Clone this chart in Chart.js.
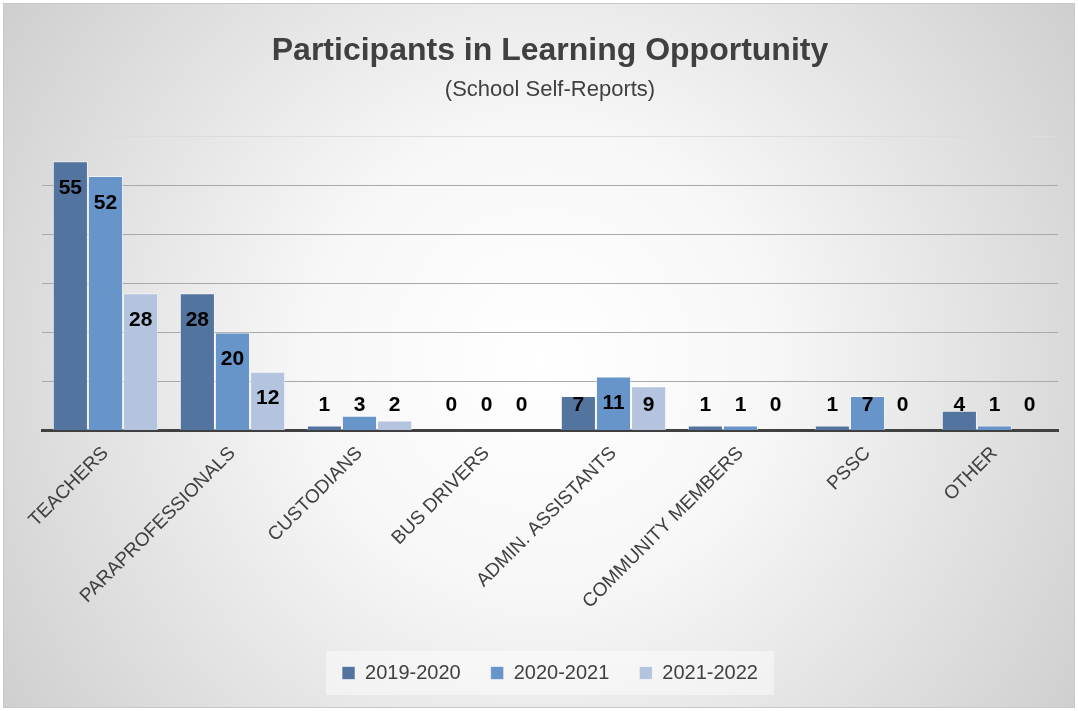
<!DOCTYPE html>
<html>
<head>
<meta charset="utf-8">
<script src="https://cdn.jsdelivr.net/npm/chart.js@4/dist/chart.umd.min.js"></script>
<style>
  html, body { margin: 0; padding: 0; background: #fff; }
  #wrap { width: 1078px; height: 711px; }
</style>
</head>
<body>
<div id="wrap"><canvas id="chart"></canvas></div>
<script>
// Chart data
const categories = ['TEACHERS', 'PARAPROFESSIONALS', 'CUSTODIANS', 'BUS DRIVERS',
    'ADMIN. ASSISTANTS', 'COMMUNITY MEMBERS', 'PSSC', 'OTHER'];
const seriesNames = ['2019-2020', '2020-2021', '2021-2022'];
const values2019 = [55, 28, 1, 0, 7, 1, 1, 4];
const values2020 = [52, 20, 3, 0, 11, 1, 7, 1];
const values2021 = [28, 12, 2, 0, 9, 0, 0, 0];
const yTicks = [0, 10, 20, 30, 40, 50, 60];

const colors = ['#52749f', '#6794c9', '#b4c4df'];
const textColor = '#404040';
const font = "'Liberation Sans', Arial, sans-serif";

// Gray radial background + legend box
const backgroundPlugin = {
    id: 'bg',
    beforeDraw(chart) {
        const ctx = chart.ctx;
        const w = chart.width, h = chart.height;
        ctx.save();
        const grad = ctx.createRadialGradient(540, 360, 0, 540, 360, 660);
        grad.addColorStop(0, '#ffffff');
        grad.addColorStop(0.35, '#f7f7f7');
        grad.addColorStop(1, '#cdcdcd');
        ctx.fillStyle = grad;
        ctx.fillRect(3, 3, w - 6, h - 6);
        ctx.strokeStyle = '#c8c8c8';
        ctx.lineWidth = 1;
        ctx.strokeRect(3.5, 3.5, w - 7, h - 7);

        // lighter box behind the legend
        const boxes = chart.legend.legendHitBoxes;
        if (boxes && boxes.length) {
            const first = boxes[0], last = boxes[boxes.length - 1];
            ctx.fillStyle = 'rgba(255,255,255,0.45)';
            ctx.fillRect(first.left - 16, first.top - 12, last.left + last.width - first.left + 32, first.height + 24);
        }
        ctx.restore();
    }
};

// Bold value labels, inside the end of the bar
const valueLabels = {
    id: 'valueLabels',
    afterDatasetsDraw(chart) {
        const ctx = chart.ctx;
        const base = chart.scales.y.getPixelForValue(0);
        ctx.save();
        ctx.font = 'bold 21px ' + font;
        ctx.fillStyle = '#000';
        ctx.textAlign = 'center';
        ctx.textBaseline = 'middle';
        chart.data.datasets.forEach((ds, i) => {
            chart.getDatasetMeta(i).data.forEach((bar, j) => {
                const y = Math.min(bar.y + 27, base - 25);
                ctx.fillText(String(ds.data[j]), bar.x, y);
            });
        });
        ctx.restore();
    }
};

new Chart(document.getElementById('chart'), {
    type: 'bar',
    data: {
        labels: categories,
        datasets: [
            { label: seriesNames[0], data: values2019, backgroundColor: colors[0] },
            { label: seriesNames[1], data: values2020, backgroundColor: colors[1] },
            { label: seriesNames[2], data: values2021, backgroundColor: colors[2] }
        ].map(ds => Object.assign(ds, {
            borderColor: 'rgba(255,255,255,0.55)',
            borderWidth: 1,
            categoryPercentage: 0.83,
            barPercentage: 1.0
        }))
    },
    options: {
        responsive: true,
        maintainAspectRatio: false,
        animation: false,
        layout: { padding: { left: 42, right: 20, top: 10, bottom: 18 } },
        plugins: {
            title: {
                display: true,
                text: 'Participants in Learning Opportunity',
                color: textColor,
                font: { family: font, size: 32, weight: 'bold' },
                padding: { top: 22, bottom: 6 }
            },
            subtitle: {
                display: true,
                text: '(School Self-Reports)',
                color: textColor,
                font: { family: font, size: 22 },
                padding: { bottom: 34 }
            },
            legend: {
                position: 'bottom',
                labels: {
                    color: textColor,
                    font: { family: font, size: 20 },
                    boxWidth: 13,
                    boxHeight: 13,
                    padding: 30
                }
            },
            tooltip: { enabled: false }
        },
        scales: {
            x: {
                grid: { display: false },
                border: { display: true, color: '#404040', width: 3 },
                ticks: {
                    color: textColor,
                    font: { family: font, size: 19 },
                    autoSkip: false,
                    minRotation: 45,
                    maxRotation: 45,
                    padding: 4
                },
                afterFit(scale) {
                    scale.height += 16;
                }
            },
            y: {
                min: yTicks[0],
                max: yTicks[yTicks.length - 1],
                afterBuildTicks(axis) {
                    axis.ticks = yTicks.map(v => ({ value: v }));
                },
                ticks: { display: false },
                border: { display: false },
                grid: {
                    color: ctx => ctx.tick && ctx.tick.value === 60 ? '#dcdcdc' : '#a9a9a9',
                    lineWidth: 1,
                    drawTicks: false
                }
            }
        }
    },
    plugins: [backgroundPlugin, valueLabels]
});
</script>
</body>
</html>
